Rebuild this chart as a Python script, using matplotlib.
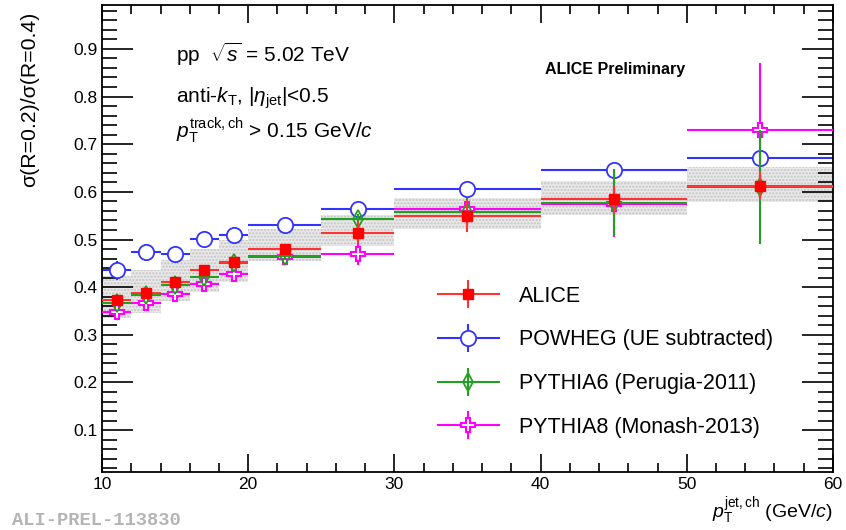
import matplotlib
matplotlib.use("Agg")
import matplotlib.pyplot as plt
from matplotlib.ticker import MultipleLocator
from matplotlib.legend_handler import HandlerErrorbar
import numpy as np

plt.rcParams['font.family'] = ['Liberation Sans', 'DejaVu Sans']
plt.rcParams['mathtext.fontset'] = 'custom'
plt.rcParams['mathtext.rm'] = 'Liberation Sans'
plt.rcParams['mathtext.it'] = 'Liberation Sans:italic'
plt.rcParams['mathtext.bf'] = 'Liberation Sans:bold'

# bins in pT jet (GeV/c)
bin_lo = [10, 12, 14, 16, 18, 20, 25, 30, 40, 50]
bin_hi = [12, 14, 16, 18, 20, 25, 30, 40, 50, 60]

# ALICE data + stat + systematic band
alice = [0.374, 0.388, 0.411, 0.436, 0.453, 0.481, 0.514, 0.549, 0.584, 0.612]
alice_stat = [0.004, 0.004, 0.005, 0.006, 0.007, 0.010, 0.022, 0.034, 0.030, 0.030]
sys_lo = [0.335, 0.345, 0.370, 0.390, 0.410, 0.455, 0.486, 0.521, 0.552, 0.578]
sys_hi = [0.423, 0.437, 0.458, 0.481, 0.498, 0.521, 0.552, 0.587, 0.622, 0.652]

powheg = [0.435, 0.474, 0.470, 0.501, 0.509, 0.531, 0.563, 0.606, 0.645, 0.670]
powheg_err = [0.020, 0.005, 0.005, 0.005, 0.005, 0.005, 0.006, 0.008, 0.010, 0.012]

pythia6 = [0.367, 0.383, 0.405, 0.422, 0.451, 0.465, 0.542, 0.557, 0.577, 0.610]
pythia6_err = [0.004, 0.004, 0.005, 0.005, 0.006, 0.008, 0.011, 0.030, 0.070, 0.120]

pythia8 = [0.348, 0.366, 0.385, 0.407, 0.427, 0.464, 0.470, 0.565, 0.575, 0.730]
pythia8_err = [0.010, 0.006, 0.006, 0.006, 0.007, 0.010, 0.023, 0.020, 0.070, 0.140]

x_c = [(a + b) / 2 for a, b in zip(bin_lo, bin_hi)]
x_w = [(b - a) / 2 for a, b in zip(bin_lo, bin_hi)]

fig = plt.figure(figsize=(8.46, 5.30), dpi=100)
ax = fig.add_axes([0.1206, 0.110, 0.864, 0.880])

# systematic boxes
ax.bar(bin_lo, np.array(sys_hi) - np.array(sys_lo), width=np.array(bin_hi) - np.array(bin_lo),
       bottom=sys_lo, align='edge', facecolor='#e8e8e8', edgecolor='#c4c4c4',
       hatch='.....', linewidth=0, zorder=1)

ax.errorbar(x_c, pythia8, xerr=x_w, yerr=pythia8_err, fmt='P', color='#ff00ff',
            mfc='white', mec='#ff00ff', ms=10, mew=1.5, elinewidth=1.5, capsize=0,
            zorder=3, label='PYTHIA8 (Monash-2013)')
ax.errorbar(x_c, pythia6, xerr=x_w, yerr=pythia6_err, fmt='d', color='#22a022',
            mfc='none', mec='#22a022', ms=9, mew=1.3, elinewidth=1.5, capsize=0,
            zorder=4, label='PYTHIA6 (Perugia-2011)')
ax.errorbar(x_c, alice, xerr=x_w, yerr=alice_stat, fmt='s', color='#ff3333',
            mfc='#ff0000', mec='#ff0000', ms=7, mew=1, elinewidth=1.5, capsize=0,
            zorder=5, label='ALICE')
ax.errorbar(x_c, powheg, xerr=x_w, yerr=powheg_err, fmt='o', color='#3333ff',
            mfc='white', mec='#3333ff', ms=11, mew=1.3, elinewidth=1.5, capsize=0,
            zorder=2, label='POWHEG (UE subtracted)')

ax.set_xlim(10, 60)
ax.set_ylim(0.0127, 0.9915)
ax.xaxis.set_major_locator(MultipleLocator(10))
ax.xaxis.set_minor_locator(MultipleLocator(2))
ax.yaxis.set_major_locator(MultipleLocator(0.1))
ax.yaxis.set_minor_locator(MultipleLocator(0.02))
ax.set_yticks([0.1, 0.2, 0.3, 0.4, 0.5, 0.6, 0.7, 0.8, 0.9])
ax.set_yticklabels(['0.1', '0.2', '0.3', '0.4', '0.5', '0.6', '0.7', '0.8', '0.9'])
ax.tick_params(which='both', direction='in', top=True, right=True, labelsize=12.5, width=1.2)
ax.tick_params(axis='y', which='major', length=22)
ax.tick_params(axis='y', which='minor', length=11)
ax.tick_params(axis='x', which='major', length=13)
ax.tick_params(axis='x', which='minor', length=6.5)
for s in ax.spines.values():
    s.set_linewidth(1.3)

handles, labels = ax.get_legend_handles_labels()
order = [2, 3, 1, 0]
ax.legend([handles[i] for i in order], [labels[i] for i in order], loc='upper left',
          bbox_to_anchor=(0.432, 0.44), frameon=False, fontsize=15.5,
          handlelength=2.9, labelspacing=1.05, handletextpad=0.9,
          handler_map={type(handles[0]): HandlerErrorbar(xerr_size=1.45, yerr_size=0.65)})

fig.text(176 / 846, 1 - 62 / 530, r'pp  $\sqrt{s}$ = 5.02 TeV', fontsize=15)
fig.text(176 / 846, 1 - 103 / 530, r'anti-$k_{\mathrm{T}}$, |$\eta_{\mathrm{jet}}$|<0.5', fontsize=15)
fig.text(176 / 846, 1 - 138 / 530, r'$p_{\mathrm{T}}^{\mathrm{track,ch}}$ > 0.15 GeV/$c$', fontsize=15)
fig.text(615 / 846, 1 - 74 / 530, 'ALICE Preliminary', fontsize=11.5, fontweight='bold', ha='center')

fig.text(30 / 846, 1 - 12 / 530, 'σ(R=0.2)/σ(R=0.4)', fontsize=15.3, rotation=90, ha='center', va='top')
fig.text(833 / 846, 1 - 518 / 530, r'$p_{\mathrm{T}}^{\mathrm{jet,ch}}$ (GeV/$c$)', fontsize=14, ha='right')
fig.text(12 / 846, 1 - 525 / 530, 'ALI-PREL-113830', fontsize=13.5, family='Liberation Mono',
         fontweight='bold', color='#b4b4b4')

plt.savefig('out.png', dpi=100)
